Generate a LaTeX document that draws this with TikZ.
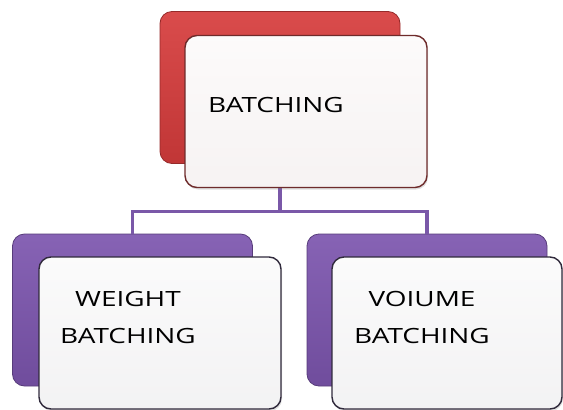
\documentclass[tikz,border=0pt]{standalone}
\usepackage{fontspec}
\setmainfont{Open Sans}[FakeStretch=1.33]
\usetikzlibrary{positioning, shadows}

\definecolor{batchred}{HTML}{D63C3C}
\definecolor{batchpurple}{HTML}{7C55AE}
\definecolor{redrim}{HTML}{6E2B2B}
\definecolor{purplerim}{HTML}{302A3C}
\definecolor{linkpurple}{HTML}{7A58A8}

\begin{document}
\begin{tikzpicture}[
    x=1pt, y=-1pt,
    font=\fontsize{21}{37}\selectfont,
    backbox/.style={rectangle, rounded corners=12pt, minimum width=240pt, minimum height=152pt, inner sep=0pt, line width=0.8pt, draw=#1!70!black, top color=#1!92!white, bottom color=#1!90!black},
    frontbox/.style={rectangle, rounded corners=12pt, minimum width=242pt, minimum height=152pt, inner sep=0pt, line width=1.4pt, draw=#1, top color=#1!2!white, bottom color=#1!6!white, drop shadow={opacity=0.25, shadow xshift=1pt, shadow yshift=-2pt}},
    conn/.style={line width=3.5pt, draw=linkpurple}
]
\useasboundingbox (0,0) rectangle (563,410);

% back boxes
\node[backbox=batchred] (batchback) at (280,87.5) {};
\node[backbox=batchpurple] (weightback) at (132.5,310) {};
\node[backbox=batchpurple] (volumeback) at (427,310) {};

% connectors
\draw[conn] (batchback.south) -- ++(0,47.5) -| (weightback.north);
\draw[conn] (batchback.south) -- ++(0,47.5) -| (volumeback.north);

% front boxes
\node[frontbox=redrim, label={[xshift=-30pt, yshift=7pt]center:BATCHING}] (batchfront) at (306,111.5) {};
\node[frontbox=purplerim, label={[xshift=-32pt, yshift=16pt, align=center]center:WEIGHT\\BATCHING}] (weightfront) at (160,333) {};
\node[frontbox=purplerim, minimum width=230pt, label={[xshift=-25pt, yshift=16pt, align=center]center:VOIUME\\BATCHING}] (volumefront) at (447,333) {};
\end{tikzpicture}
\end{document}
